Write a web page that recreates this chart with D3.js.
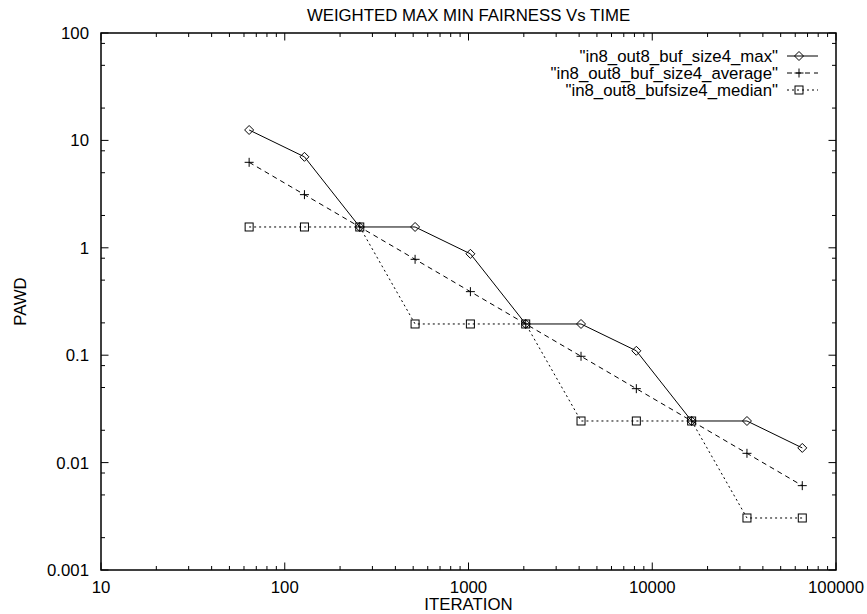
<!DOCTYPE html>
<html lang="en">
    <head>
        <meta charset="utf-8">
        <script src="https://cdn.jsdelivr.net/npm/d3@7"></script>
        <style>
            body { margin: 0; background: #fff; }
            text { font-family: "Liberation Sans", Arial, sans-serif; font-size: 16.8px; fill: #000; }
        </style>
    </head>
    <body>
        <svg id="mysvg" width="867" height="614"></svg>

        <script>

        // data
        var iterations = [64, 128, 256, 512, 1024, 2048, 4096, 8192, 16384, 32768, 65536]
        var maxValues = [12.5, 7.03, 1.5625, 1.5625, 0.879, 0.1953, 0.1953, 0.1099, 0.0244, 0.0244, 0.0137]
        var averageValues = [6.25, 3.125, 1.5625, 0.78125, 0.3906, 0.1953, 0.0977, 0.0488, 0.0244, 0.0122, 0.0061]
        var medianValues = [1.5625, 1.5625, 1.5625, 0.1953, 0.1953, 0.1953, 0.0244, 0.0244, 0.0244, 0.00305, 0.00305]

        var seriesNames = ['"in8_out8_buf_size4_max"', '"in8_out8_buf_size4_average"', '"in8_out8_bufsize4_median"']
        var xTickLabels = ["10", "100", "1000", "10000", "100000"]
        var yTickLabels = ["0.001", "0.01", "0.1", "1", "10", "100"]

        // (window.top is read-only, so no "top" here)
        var plotL = 101, plotR = 836, plotT = 33, plotB = 570

        var svg = d3.select("#mysvg")

        var x = d3.scaleLog().domain([10, 100000]).range([plotL, plotR])
        var y = d3.scaleLog().domain([0.001, 100]).range([plotB, plotT])

        // minor ticks: 2..9 on x, 2,5,8 on y (like gnuplot did)
        var xMinor = [], yMinor = []
        xTickLabels.forEach(function(t, i) {
            if (i < xTickLabels.length - 1) for (var k = 2; k <= 9; k++) xMinor.push(+t * k)
        })
        yTickLabels.forEach(function(t, i) {
            if (i < yTickLabels.length - 1) [2, 5, 8].forEach(function(k) { yMinor.push(+t * k) })
        })

        var majorLen = 7.5, minorLen = 4

        function tickLines(g, vals, len, horiz) {
            vals.forEach(function(v) {
                if (horiz) {
                    g.append("line").attr("x1", x(v)).attr("x2", x(v)).attr("y1", plotB).attr("y2", plotB - len)
                    g.append("line").attr("x1", x(v)).attr("x2", x(v)).attr("y1", plotT).attr("y2", plotT + len)
                } else {
                    g.append("line").attr("y1", y(v)).attr("y2", y(v)).attr("x1", plotL).attr("x2", plotL + len)
                    g.append("line").attr("y1", y(v)).attr("y2", y(v)).attr("x1", plotR).attr("x2", plotR - len)
                }
            })
        }

        var ticks = svg.append("g").attr("stroke", "#000").attr("stroke-width", 1)
        tickLines(ticks, xTickLabels.map(Number), majorLen, true)
        tickLines(ticks, xMinor, minorLen, true)
        tickLines(ticks, yTickLabels.map(Number), majorLen, false)
        tickLines(ticks, yMinor, minorLen, false)

        // tick labels
        svg.append("g").selectAll("text").data(xTickLabels).enter().append("text")
            .attr("x", function(d) { return x(+d) })
            .attr("y", 593)
            .attr("text-anchor", "middle")
            .text(function(d) { return d })

        svg.append("g").selectAll("text").data(yTickLabels).enter().append("text")
            .attr("x", 89)
            .attr("y", function(d) { return y(+d) + 6 })
            .attr("text-anchor", "end")
            .text(function(d) { return d })

        // frame
        svg.append("rect")
            .attr("x", plotL).attr("y", plotT)
            .attr("width", plotR - plotL).attr("height", plotB - plotT)
            .attr("fill", "none").attr("stroke", "#000").attr("stroke-width", 1.5)

        svg.append("text").attr("x", (plotL + plotR) / 2).attr("y", 21)
            .attr("text-anchor", "middle").text("WEIGHTED MAX MIN FAIRNESS Vs TIME")
        svg.append("text").attr("x", (plotL + plotR) / 2).attr("y", 610)
            .attr("text-anchor", "middle").text("ITERATION")
        svg.append("text").attr("transform", "translate(26," + (plotT + plotB) / 2 + ") rotate(-90)")
            .attr("text-anchor", "middle").text("PAWD")

        // markers
        function diamond(g, cx, cy) {
            g.append("path").attr("d", "M" + cx + "," + (cy - 4.5) + "L" + (cx + 4.5) + "," + cy + "L" + cx + "," + (cy + 4.5) + "L" + (cx - 4.5) + "," + cy + "Z")
        }
        function plus(g, cx, cy) {
            g.append("path").attr("d", "M" + (cx - 4.5) + "," + cy + "H" + (cx + 4.5) + "M" + cx + "," + (cy - 4.5) + "V" + (cy + 4.5))
        }
        function square(g, cx, cy) {
            g.append("rect").attr("x", cx - 4).attr("y", cy - 4).attr("width", 8).attr("height", 8)
        }

        var series = [
            {name: seriesNames[0], values: maxValues, dash: null, mark: diamond},
            {name: seriesNames[1], values: averageValues, dash: "5,4", mark: plus},
            {name: seriesNames[2], values: medianValues, dash: "2,3", mark: square}
        ]

        var lineFunction = d3.line()
            .x(function(d) { return x(d[0]) })
            .y(function(d) { return y(d[1]) })

        var legendRows = [56, 73, 90]

        series.forEach(function(s, i) {
            var pts = iterations.map(function(it, j) { return [it, s.values[j]] })
            svg.append("path")
                .attr("d", lineFunction(pts))
                .attr("fill", "none")
                .attr("stroke", "#000")
                .attr("stroke-width", 1)
                .attr("stroke-dasharray", s.dash)

            var marks = svg.append("g").attr("fill", "none").attr("stroke", "#000").attr("stroke-width", 1)
            pts.forEach(function(p) { s.mark(marks, x(p[0]), y(p[1])) })

            // key
            var ly = legendRows[i]
            svg.append("text").attr("x", 778).attr("y", ly + 6)
                .attr("text-anchor", "end").text(s.name)
            svg.append("line").attr("x1", 787).attr("x2", 818).attr("y1", ly).attr("y2", ly)
                .attr("stroke", "#000").attr("stroke-width", 1).attr("stroke-dasharray", s.dash)
            s.mark(marks, 799, ly)
        })
        </script>
    </body>
</html>
